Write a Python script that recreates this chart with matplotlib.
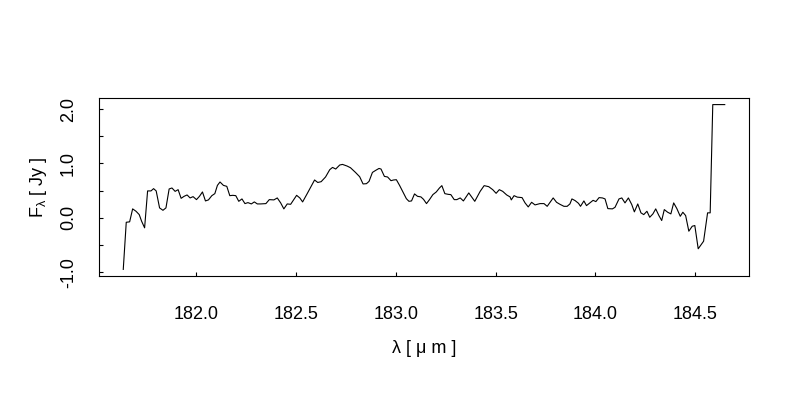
import matplotlib
matplotlib.use("Agg")
import matplotlib.pyplot as plt

plt.rcParams['font.family'] = ['Liberation Sans', 'DejaVu Sans']
plt.rcParams['mathtext.fontset'] = 'custom'
plt.rcParams['mathtext.rm'] = 'Liberation Sans'
plt.rcParams['mathtext.it'] = 'Liberation Sans'
plt.rcParams['mathtext.default'] = 'regular'

# spectrum
wavelength = [
    181.633, 181.648, 181.665, 181.680, 181.697, 181.713, 181.725, 181.740,
    181.755, 181.772, 181.785, 181.798, 181.815, 181.832, 181.847, 181.863,
    181.877, 181.893, 181.908, 181.923, 181.938, 181.953, 181.968, 181.983,
    182.000, 182.015, 182.030, 182.045, 182.060, 182.077, 182.092, 182.105,
    182.118, 182.135, 182.152, 182.167, 182.182, 182.197, 182.212, 182.228,
    182.243, 182.258, 182.275, 182.290, 182.305, 182.322, 182.348, 182.365,
    182.388, 182.405, 182.422, 182.438, 182.455, 182.472, 182.502, 182.518,
    182.532, 182.555, 182.592, 182.608, 182.625, 182.647, 182.668, 182.682,
    182.698, 182.718, 182.732, 182.755, 182.772, 182.797, 182.818, 182.835,
    182.852, 182.865, 182.882, 182.898, 182.915, 182.925, 182.942, 182.958,
    182.975, 182.988, 183.002, 183.018, 183.035, 183.052, 183.065, 183.078,
    183.093, 183.108, 183.125, 183.138, 183.153, 183.168, 183.185, 183.202,
    183.218, 183.230, 183.245, 183.262, 183.275, 183.292, 183.305, 183.322,
    183.338, 183.365, 183.382, 183.395, 183.422, 183.442, 183.465, 183.485,
    183.502, 183.518, 183.535, 183.555, 183.572, 183.578, 183.592, 183.608,
    183.632, 183.647, 183.663, 183.680, 183.697, 183.722, 183.742, 183.758,
    183.788, 183.805, 183.822, 183.842, 183.858, 183.872, 183.882, 183.898,
    183.915, 183.925, 183.942, 183.955, 183.972, 183.988, 184.002, 184.018,
    184.035, 184.048, 184.062, 184.085, 184.098, 184.118, 184.132, 184.148,
    184.165, 184.182, 184.195, 184.212, 184.228, 184.242, 184.258, 184.272,
    184.288, 184.302, 184.318, 184.332, 184.345, 184.362, 184.378, 184.392,
    184.408, 184.425, 184.438, 184.452, 184.468, 184.485, 184.498, 184.515,
    184.542, 184.562, 184.575, 184.588, 184.648,
]
flux = [
    -0.947, -0.081, -0.073, 0.165, 0.121, 0.060, -0.062, -0.183,
    0.495, 0.495, 0.537, 0.495, 0.183, 0.139, 0.183, 0.531,
    0.549, 0.487, 0.518, 0.359, 0.396, 0.421, 0.366, 0.390,
    0.335, 0.396, 0.476, 0.311, 0.330, 0.408, 0.445, 0.597,
    0.659, 0.597, 0.579, 0.408, 0.414, 0.408, 0.304, 0.348,
    0.262, 0.280, 0.256, 0.293, 0.256, 0.256, 0.262, 0.335,
    0.330, 0.366, 0.275, 0.165, 0.256, 0.249, 0.414, 0.366,
    0.293, 0.445, 0.696, 0.650, 0.665, 0.751, 0.885, 0.927,
    0.897, 0.971, 0.982, 0.952, 0.921, 0.835, 0.756, 0.623,
    0.628, 0.670, 0.835, 0.872, 0.908, 0.897, 0.762, 0.751,
    0.683, 0.696, 0.701, 0.597, 0.476, 0.353, 0.304, 0.311,
    0.440, 0.396, 0.385, 0.341, 0.262, 0.335, 0.427, 0.476,
    0.549, 0.592, 0.445, 0.432, 0.427, 0.335, 0.335, 0.366,
    0.311, 0.458, 0.372, 0.304, 0.487, 0.592, 0.573, 0.518,
    0.451, 0.518, 0.487, 0.421, 0.385, 0.330, 0.408, 0.381,
    0.372, 0.275, 0.201, 0.286, 0.238, 0.262, 0.262, 0.212,
    0.366, 0.286, 0.249, 0.212, 0.212, 0.256, 0.348, 0.317,
    0.267, 0.212, 0.311, 0.225, 0.275, 0.322, 0.299, 0.372,
    0.366, 0.348, 0.170, 0.165, 0.194, 0.348, 0.366, 0.275,
    0.366, 0.244, 0.110, 0.256, 0.092, 0.060, 0.121, 0.011,
    0.073, 0.165, 0.042, -0.049, 0.152, 0.103, 0.073, 0.275,
    0.170, 0.029, 0.103, 0.042, -0.245, -0.154, -0.141, -0.568,
    -0.429, 0.092, 0.092, 2.081, 2.081,
]

x_ticks = [182.0, 182.5, 183.0, 183.5, 184.0, 184.5]
y_ticks = [-1.0, -0.5, 0.0, 0.5, 1.0, 1.5, 2.0]
y_ticklabels = ['-1.0', '', '0.0', '', '1.0', '', '2.0']

fig = plt.figure(figsize=(8, 4), dpi=100)
ax = fig.add_axes([0.124, 0.31, 0.812, 0.445])

ax.plot(wavelength, flux, color='black', linewidth=0.8)

# R-style 4% padding around the data
pad_x = 0.04 * (max(wavelength) - min(wavelength))
pad_y = 0.04 * (max(flux) - min(flux))
ax.set_xlim(min(wavelength) - pad_x, max(wavelength) + pad_x)
ax.set_ylim(min(flux) - pad_y, max(flux) + pad_y)

ax.set_xticks(x_ticks)
ax.set_xticklabels(['%.1f' % t for t in x_ticks])
ax.set_yticks(y_ticks)
ax.set_yticklabels(y_ticklabels, rotation=90, va='center')

ax.tick_params(direction='in', length=3, width=0.8, labelsize=13, color='black')
ax.tick_params(axis='x', pad=21.5)
ax.tick_params(axis='y', pad=16)
for s in ax.spines.values():
    s.set_linewidth(0.8)

ax.set_xlabel('λ [ μ m ]', fontsize=13, labelpad=12)
ax.set_ylabel(r'F$_λ$ [ Jy ]', fontsize=13, labelpad=8)

fig.savefig('out.png', dpi=100)
